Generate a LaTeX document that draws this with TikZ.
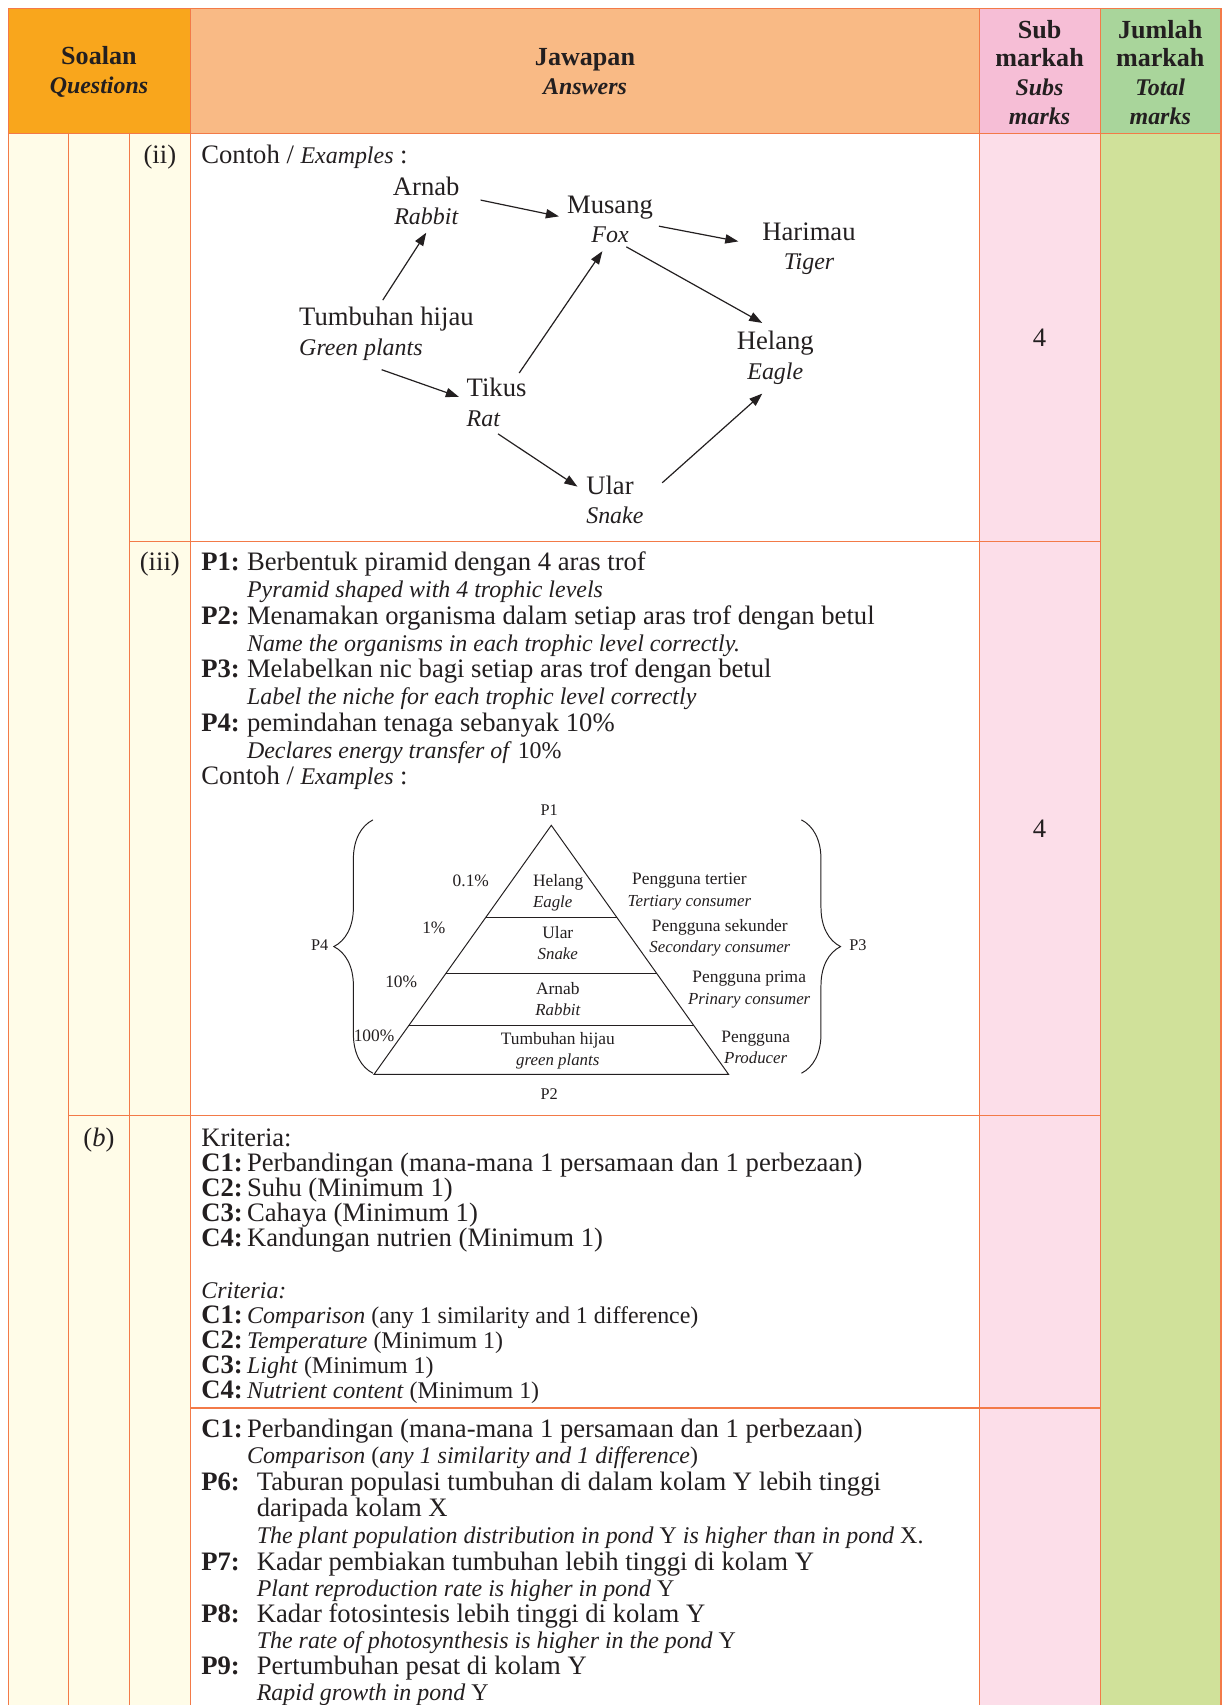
\documentclass[tikz,border=0pt]{standalone}
\usepackage{fontspec}
\setmainfont{Liberation Serif}
\usetikzlibrary{arrows.meta,calc,decorations.pathreplacing}
\definecolor{bordc}{HTML}{F37A48}
\definecolor{hsoal}{HTML}{F9A61C}
\definecolor{hjaw}{HTML}{F9BA85}
\definecolor{hsub}{HTML}{F6BED6}
\definecolor{hjum}{HTML}{A9D59B}
\definecolor{cream}{HTML}{FFFCE8}
\definecolor{bsub}{HTML}{FCDEE9}
\definecolor{bjum}{HTML}{D0E19A}
\definecolor{ink}{HTML}{231F20}
\newcommand\fbody{\fontsize{24.5}{27}\selectfont}
\newcommand\en{\fontsize{22}{22}\selectfont}
\newcommand\itl[1]{{\fontsize{22}{22}\selectfont\itshape #1}}
\newcommand\fsm{\fontsize{16}{19.5}\selectfont}
\newcommand\itsm[1]{{\fontsize{15.5}{15.5}\selectfont\itshape #1}}
\newcommand\fhd{\fontsize{24}{26.3}\selectfont}
\newcommand\bi[1]{{\fontsize{22}{22}\selectfont\bfseries\itshape #1}}
\newcommand\lab[1]{\makebox[42pt][l]{\bfseries #1}}
\newcommand\labb[1]{\makebox[51pt][l]{\bfseries #1}}
\tikzset{
  ln/.style={anchor=base west, inner sep=0pt, font=\fbody, text=ink},
  hd/.style={align=center, inner sep=0pt, font=\fhd\bfseries, text=ink},
  org/.style={align=center, inner sep=0pt, font=\fbody, text=ink},
  orgl/.style={align=left, inner sep=0pt, font=\fbody, text=ink, anchor=west},
  arr/.style={-{Triangle[length=12pt,width=8.5pt]}, line width=1.1pt, draw=ink},
  grid/.style={draw=bordc, line width=1.3pt},
  pl/.style={align=center, inner sep=0pt, font=\fsm, text=ink},
  brc/.style={draw=ink, line width=0.9pt, decorate, decoration={brace, amplitude=36pt}},
}
\begin{document}
\begin{tikzpicture}[x=1pt,y=-1pt]
\useasboundingbox (0,0) rectangle (1131,1568);
\fill[white] (0,0) rectangle (1131,1568);
% fills
\fill[hsoal] (8,8) rectangle (175,123);
\fill[hjaw] (175,8) rectangle (901,123);
\fill[hsub] (901,8) rectangle (1012,123);
\fill[hjum] (1012,8) rectangle (1123,123);
\fill[cream] (8,123) rectangle (175,1575);
\fill[bsub] (901,123) rectangle (1012,1575);
\fill[bjum] (1012,123) rectangle (1123,1575);
% grid lines
\draw[grid] (8,1575) -- (8,8) -- (1123,8) -- (1123,1575);
\draw[grid] (8,123) -- (1123,123);
\draw[grid] (175,8) -- (175,1575);
\draw[grid] (901,8) -- (901,1575);
\draw[grid] (1012,8) -- (1012,1575);
\draw[grid] (63,123) -- (63,1575);
\draw[grid] (119,123) -- (119,1575);
\draw[grid] (119,498) -- (1012,498);
\draw[grid] (63,1026) -- (1012,1026);
\draw[grid] (175,1295) -- (1012,1295);
% headers
\node[hd] (hq) at (91,66) {Soalan\\\bi{Questions}};
\node[hd] (ha) at (538,66) {Jawapan\\\bi{Answers}};
\node[hd] (hs) at (956,66.5) {Sub\\markah\\\bi{Subs}\\\bi{marks}};
\node[hd] (ht) at (1067,66.5) {Jumlah\\markah\\\bi{Total}\\\bi{marks}};
% question labels
\node[ln, anchor=base] (lii) at (147,150) {(ii)};
\node[ln, anchor=base] (liii) at (147,525) {(iii)};
\node[ln, anchor=base] (lb) at (91,1054) {(\textit{b})};
\node[ln, anchor=base] (m1) at (956,319) {4};
\node[ln, anchor=base] (m2) at (956,770) {4};
% (ii) food web
\node[ln] (cx1) at (185,150) {Contoh / \itl{Examples} :};
\node[org] (arnab) at (392,185) {Arnab\\\itl{Rabbit}};
\node[org] (musang) at (561,202) {Musang\\\itl{Fox}};
\node[org] (harimau) at (744,229) {Harimau\\\itl{Tiger}};
\node[orgl] (tumbuhan) at (275,307) {Tumbuhan hijau\\\itl{Green plants}};
\node[org] (helang) at (713,329) {Helang\\\itl{Eagle}};
\node[orgl] (tikus) at (429,370) {Tikus\\\itl{Rat}};
\node[orgl] (ular) at (539,460) {Ular\\\itl{Snake}};
\draw[arr] ($(arnab)+(50,-1)$) -- ($(musang)+(-47,-3)$);
\draw[arr] ($(tumbuhan.west)+(77,-31)$) -- ($(arnab)+(0,29)$);
\draw[arr] ($(tumbuhan.west)+(76,33)$) -- ($(tikus.west)+(-7,-5)$);
\draw[arr] ($(tikus.west)+(48.5,-27)$) -- ($(musang)+(-7,29)$);
\draw[arr] ($(musang)+(45,6)$) -- ($(harimau)+(-65,-7)$);
\draw[arr] ($(musang)+(15,25)$) -- ($(helang)+(-12,-32)$);
\draw[arr] ($(tikus.west)+(29,29)$) -- ($(ular.west)+(-8,-12.5)$);
\draw[arr] ($(ular.west)+(70,-16)$) -- ($(helang)+(-12,33)$);
% (iii)
\node[ln] (p1) at (185,525) {\lab{P1:}Berbentuk piramid dengan 4 aras trof};
\node[ln] (p1e) at (227,549.6) {\itl{Pyramid shaped with 4 trophic levels}};
\node[ln] (p2) at (185,574.2) {\lab{P2:}Menamakan organisma dalam setiap aras trof dengan betul};
\node[ln] (p2e) at (227,598.8) {\itl{Name the organisms in each trophic level correctly.}};
\node[ln] (p3) at (185,623.4) {\lab{P3:}Melabelkan nic bagi setiap aras trof dengan betul};
\node[ln] (p3e) at (227,648) {\itl{Label the niche for each trophic level correctly}};
\node[ln] (p4) at (185,672.6) {\lab{P4:}pemindahan tenaga sebanyak 10\%};
\node[ln] (p4e) at (227,697.2) {{\en\textit{Declares energy transfer of} 10\%}};
\node[ln] (cx2) at (185,721.8) {Contoh / \itl{Examples} :};
% pyramid
\coordinate (apex) at (507,759);
\coordinate (bl) at (344,988);
\coordinate (br) at (670,988);
\draw[ink, line width=0.9pt, line join=miter] (apex) -- (bl) -- (br) -- cycle;
\draw[ink, line width=0.9pt] ($(apex)!0.371!(bl)$) -- ($(apex)!0.371!(br)$);
\draw[ink, line width=0.9pt] ($(apex)!0.594!(bl)$) -- ($(apex)!0.594!(br)$);
\draw[ink, line width=0.9pt] ($(apex)!0.803!(bl)$) -- ($(apex)!0.803!(br)$);
\node[pl, font=\fontsize{15}{15}\selectfont] (lp1) at (505,745) {P1};
\node[pl, font=\fontsize{15}{15}\selectfont] (lp2) at (505,1006) {P2};
\node[pl, font=\fontsize{15}{15}\selectfont] (lp4) at (294,869) {P4};
\node[pl, font=\fontsize{15}{15}\selectfont] (lp3) at (789,869) {P3};
\node[pl, align=left, anchor=west] (py1) at (490,821) {Helang\\\itsm{Eagle}};
\node[pl] (py2) at (513,867.5) {Ular\\\itsm{Snake}};
\node[pl] (py3) at (513,918.5) {Arnab\\\itsm{Rabbit}};
\node[pl] (py4) at (513,966) {Tumbuhan hijau\\\itsm{green plants}};
\node[pl] (pc1) at (433,810) {0.1\%};
\node[pl] (pc2) at (399,853) {1\%};
\node[pl] (pc3) at (369,903) {10\%};
\node[pl] (pc4) at (344,953) {100\%};
\node[pl] (ni1) at (634,820) {Pengguna tertier\\\itsm{Tertiary consumer}};
\node[pl] (ni2) at (662,862.5) {Pengguna sekunder\\\itsm{Secondary consumer}};
\node[pl] (ni3) at (689,910) {Pengguna prima\\\itsm{Prinary consumer}};
\node[pl] (ni4) at (695,963.5) {Pengguna\\\itsm{Producer}};
\draw[brc] (343,987) -- (343,754);
\draw[brc] (737,754) -- (737,987);
% (b) first
\node[ln] (k0) at (185,1054) {Kriteria:};
\node[ln] (k1) at (185,1077) {\lab{C1:}Perbandingan (mana-mana 1 persamaan dan 1 perbezaan)};
\node[ln] (k2) at (185,1100) {\lab{C2:}Suhu (Minimum 1)};
\node[ln] (k3) at (185,1123) {\lab{C3:}Cahaya (Minimum 1)};
\node[ln] (k4) at (185,1146) {\lab{C4:}Kandungan nutrien (Minimum 1)};
\node[ln] (e0) at (185,1194) {\itl{Criteria:}};
\node[ln] (e1) at (185,1217) {\lab{C1:}{\en\textit{Comparison} (any 1 similarity and 1 difference)}};
\node[ln] (e2) at (185,1240) {\lab{C2:}{\en\textit{Temperature} (Minimum 1)}};
\node[ln] (e3) at (185,1263) {\lab{C3:}{\en\textit{Light} (Minimum 1)}};
\node[ln] (e4) at (185,1286) {\lab{C4:}{\en\textit{Nutrient content} (Minimum 1)}};
% (b) second
\node[ln] (q1) at (185,1322) {\lab{C1:}Perbandingan (mana-mana 1 persamaan dan 1 perbezaan)};
\node[ln] (q1e) at (227,1346) {{\en\textit{Comparison} (\textit{any 1 similarity and 1 difference})}};
\node[ln] (q6) at (185,1371) {\labb{P6:}Taburan populasi tumbuhan di dalam kolam Y lebih tinggi};
\node[ln] (q6b) at (236,1395) {daripada kolam X};
\node[ln] (q6e) at (236,1419) {{\en\textit{The plant population distribution in pond} Y \textit{is higher than in pond} X.}};
\node[ln] (q7) at (185,1444) {\labb{P7:}Kadar pembiakan tumbuhan lebih tinggi di kolam Y};
\node[ln] (q7e) at (236,1468) {{\en\textit{Plant reproduction rate is higher in pond} Y}};
\node[ln] (q8) at (185,1492) {\labb{P8:}Kadar fotosintesis lebih tinggi di kolam Y};
\node[ln] (q8e) at (236,1516) {{\en\textit{The rate of photosynthesis is higher in the pond} Y}};
\node[ln] (q9) at (185,1540) {\labb{P9:}Pertumbuhan pesat di kolam Y};
\node[ln] (q9e) at (236,1564) {{\en\textit{Rapid growth in pond} Y}};
\end{tikzpicture}
\end{document}
